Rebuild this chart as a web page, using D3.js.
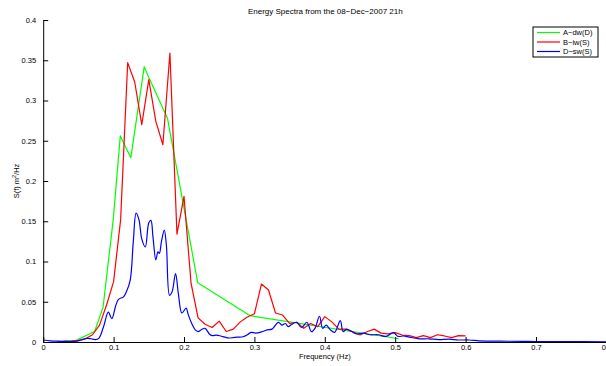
<!DOCTYPE html>
<html>
<head>
<meta charset="utf-8">
<script src="https://cdn.jsdelivr.net/npm/d3@7"></script>
<style>
  html, body { margin: 0; padding: 0; background: #fff; }
  svg { display: block; font-family: "Liberation Sans", Arial, Helvetica, sans-serif; }
</style>
</head>
<body>
<svg id="chart" width="606" height="366"></svg>
<script>
// Spectral density estimates, S(f) in m^2/Hz against frequency in Hz.
const seriesNames = ["A\u2212dw(D)", "B\u2212iw(S)", "D\u2212sw(S)"];
const seriesColors = ["#00ff00", "#ff0000", "#0000ff"];

const freqA = [0.03, 0.047, 0.073, 0.085, 0.0995, 0.1095, 0.1245, 0.1435, 0.1505, 0.1765, 0.2195, 0.294, 0.505];
const specA = [0.001, 0.002, 0.013, 0.043, 0.152, 0.256, 0.229, 0.342, 0.3275, 0.278, 0.0737, 0.0327, 0.004];

const freqB = [0.02, 0.03, 0.04, 0.05, 0.06, 0.07, 0.08, 0.09, 0.10, 0.11, 0.12, 0.13, 0.14, 0.15, 0.16, 0.17, 0.18, 0.19, 0.20,
  0.21, 0.22, 0.23, 0.24, 0.25, 0.26, 0.27, 0.28, 0.29, 0.30, 0.31, 0.32, 0.33, 0.34, 0.35, 0.36, 0.37, 0.38, 0.39, 0.40,
  0.41, 0.42, 0.43, 0.44, 0.45, 0.46, 0.47, 0.48, 0.49, 0.50, 0.51, 0.52, 0.53, 0.54, 0.55, 0.56, 0.57, 0.58, 0.59, 0.60];
const specB = [0.0005, 0.0008, 0.001, 0.002, 0.004, 0.009, 0.021, 0.046, 0.075, 0.152, 0.347, 0.323, 0.270, 0.326, 0.274, 0.245, 0.359, 0.134, 0.181,
  0.073, 0.030, 0.022, 0.018, 0.026, 0.013, 0.016, 0.025, 0.031, 0.035, 0.072, 0.0646, 0.036, 0.0335, 0.023, 0.0245, 0.017, 0.023, 0.019, 0.0315,
  0.025, 0.016, 0.016, 0.0128, 0.0087, 0.0128, 0.016, 0.011, 0.010, 0.0116, 0.0087, 0.008, 0.0055, 0.008, 0.0055, 0.009, 0.0075, 0.0055, 0.008, 0.0075];

const freqD = [0.000, 0.010, 0.020, 0.030, 0.040, 0.050, 0.056, 0.062, 0.068, 0.074, 0.079, 0.0857, 0.0925, 0.0975, 0.103, 0.107, 0.114, 0.118,
  0.1236, 0.128, 0.132, 0.136, 0.140, 0.145, 0.150, 0.153, 0.156, 0.160, 0.163, 0.165, 0.168, 0.172, 0.175, 0.1795, 0.183, 0.188,
  0.192, 0.197, 0.203, 0.206, 0.211, 0.216, 0.220, 0.225, 0.230, 0.236, 0.240, 0.246, 0.252, 0.258, 0.264, 0.270, 0.276, 0.284,
  0.290, 0.295, 0.302, 0.310, 0.318, 0.325, 0.334, 0.339, 0.344, 0.348, 0.353, 0.360, 0.367, 0.3745, 0.381, 0.386, 0.3925, 0.397,
  0.402, 0.408, 0.414, 0.422, 0.426, 0.431, 0.438, 0.445, 0.455, 0.464, 0.476, 0.487, 0.4975, 0.504, 0.512, 0.520, 0.534, 0.548,
  0.562, 0.576, 0.590, 0.605, 0.620, 0.650, 0.680, 0.700, 0.740, 0.800];
const specD = [0.0025, 0.0015, 0.001, 0.0008, 0.0006, 0.0015, 0.003, 0.0045, 0.004, 0.003, 0.0045, 0.019, 0.037, 0.029, 0.045, 0.053, 0.056, 0.062,
  0.077, 0.125, 0.160, 0.152, 0.128, 0.118, 0.148, 0.151, 0.130, 0.102, 0.112, 0.110, 0.125, 0.139, 0.120, 0.058, 0.062, 0.085,
  0.060, 0.036, 0.042, 0.034, 0.023, 0.015, 0.013, 0.0155, 0.017, 0.010, 0.008, 0.0085, 0.0075, 0.006, 0.005, 0.0055, 0.006, 0.0065,
  0.009, 0.012, 0.011, 0.0125, 0.015, 0.016, 0.0245, 0.021, 0.023, 0.019, 0.022, 0.0245, 0.018, 0.0245, 0.0128, 0.017, 0.032, 0.017,
  0.021, 0.015, 0.012, 0.0265, 0.013, 0.016, 0.013, 0.010, 0.011, 0.009, 0.009, 0.007, 0.0116, 0.007, 0.0075, 0.006, 0.004, 0.004,
  0.003, 0.0035, 0.0025, 0.0025, 0.0015, 0.001, 0.0008, 0.0006, 0.0004, 0.0003];

const xTicks = [0, 0.1, 0.2, 0.3, 0.4, 0.5, 0.6, 0.7, 0.8];
const yTicks = [0, 0.05, 0.1, 0.15, 0.2, 0.25, 0.3, 0.35, 0.4];

const titleText = "Energy Spectra from the 08\u2212Dec\u22122007 21h";

const svg = d3.select("#chart");
const plotLeft = 43.2, plotRight = 606.4, plotTop = 20, plotBottom = 342;

const x = d3.scaleLinear().domain([0, 0.8]).range([plotLeft, plotRight]);
const y = d3.scaleLinear().domain([0, 0.4]).range([plotBottom, plotTop]);

// Title
svg.append("text")
  .attr("x", (plotLeft + plotRight) / 2 + 0.5)
  .attr("y", 14)
  .attr("text-anchor", "middle")
  .attr("font-size", 8)
  .text(titleText);

// Spectra
const series = [
  { f: freqA, s: specA, curve: d3.curveLinear },
  { f: freqB, s: specB, curve: d3.curveLinear },
  { f: freqD, s: specD, curve: d3.curveCatmullRom.alpha(0.5) }
];
series.forEach((d, i) => {
  const pts = d.f.map((fv, k) => [fv, d.s[k]]);
  const line = d3.line().x(p => x(p[0])).y(p => y(p[1])).curve(d.curve);
  svg.append("path")
    .attr("d", line(pts))
    .attr("fill", "none")
    .attr("stroke", seriesColors[i])
    .attr("stroke-width", 1.2)
    .attr("stroke-linejoin", "round");
});

// Axes with inward ticks
const xAxis = d3.axisBottom(x).tickValues(xTicks).tickSizeInner(-5).tickSizeOuter(0)
  .tickPadding(3).tickFormat(d => d3.format("~g")(d));
const gx = svg.append("g").attr("transform", `translate(0,${plotBottom})`).call(xAxis);
const yAxis = d3.axisLeft(y).tickValues(yTicks).tickSizeInner(-5).tickSizeOuter(0)
  .tickPadding(7).tickFormat(d => d3.format("~g")(d));
const gy = svg.append("g").attr("transform", `translate(${plotLeft},0)`).call(yAxis);
[gx, gy].forEach(g => {
  g.selectAll("text").attr("font-size", 7.5).attr("fill", "#000")
    .attr("font-family", "'Liberation Sans', Arial, sans-serif");
  g.selectAll("line").attr("stroke", "#000").attr("stroke-width", 1);
  g.select(".domain").attr("stroke", "#000").attr("stroke-width", 1);
});

// Axis labels
svg.append("text")
  .attr("x", (plotLeft + plotRight) / 2)
  .attr("y", 359)
  .attr("text-anchor", "middle")
  .attr("font-size", 7.5)
  .text("Frequency (Hz)");

const yl = svg.append("text")
  .attr("transform", `translate(19,${(plotTop + plotBottom) / 2}) rotate(-90)`)
  .attr("text-anchor", "middle")
  .attr("font-size", 7.5);
yl.append("tspan").text("S(f) m");
yl.append("tspan").attr("font-size", 5.5).attr("dy", -3).text("2");
yl.append("tspan").attr("dy", 3).text("/Hz");

// Legend
const lg = svg.append("g").attr("transform", "translate(533,27)");
lg.append("rect").attr("width", 65).attr("height", 30)
  .attr("fill", "#fff").attr("stroke", "#000").attr("stroke-width", 1);
seriesNames.forEach((name, i) => {
  const yy = 5.5 + i * 9.5;
  lg.append("line").attr("x1", 4).attr("x2", 27).attr("y1", yy).attr("y2", yy)
    .attr("stroke", seriesColors[i]).attr("stroke-width", 1.2);
  lg.append("text").attr("x", 30).attr("y", yy + 2.7)
    .attr("font-size", 7.5).text(name);
});
</script>
</body>
</html>
